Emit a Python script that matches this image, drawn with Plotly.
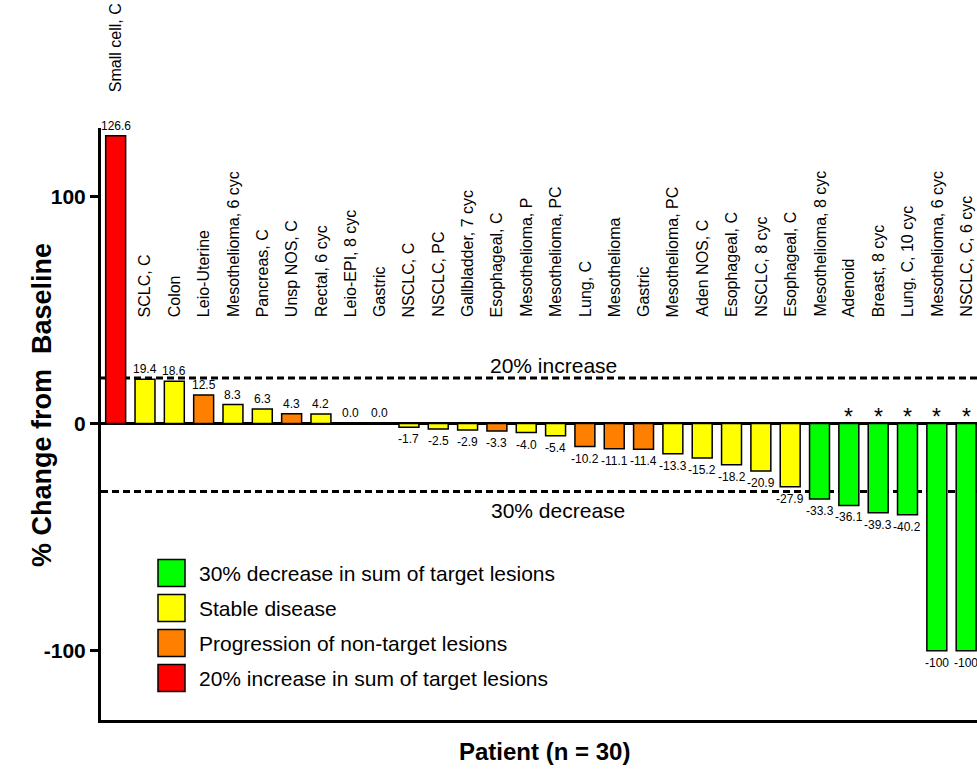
import plotly.graph_objects as go

# ---------------- data ----------------
labels = [
    "Small cell, C", "SCLC, C", "Colon", "Leio-Uterine", "Mesothelioma, 6 cyc",
    "Pancreas, C", "Unsp NOS, C", "Rectal, 6 cyc", "Leio-EPI, 8 cyc", "Gastric",
    "NSCLC, C", "NSCLC, PC", "Gallbladder, 7 cyc", "Esophageal, C", "Mesothelioma, P",
    "Mesothelioma, PC", "Lung, C", "Mesothelioma", "Gastric", "Mesothelioma, PC",
    "Aden NOS, C", "Esophageal, C", "NSCLC, 8 cyc", "Esophageal, C", "Mesothelioma, 8 cyc",
    "Adenoid", "Breast, 8 cyc", "Lung, C, 10 cyc", "Mesothelioma, 6 cyc", "NSCLC, C, 6 cyc",
]
values = [
    126.6, 19.4, 18.6, 12.5, 8.3, 6.3, 4.3, 4.2, 0.0, 0.0,
    -1.7, -2.5, -2.9, -3.3, -4.0, -5.4, -10.2, -11.1, -11.4, -13.3,
    -15.2, -18.2, -20.9, -27.9, -33.3, -36.1, -39.3, -40.2, -100, -100,
]
# response group: G = 30% decrease, S = stable, P = non-target progression, R = 20% increase
groups = [
    "R", "S", "S", "P", "S", "S", "P", "S", "S", "S",
    "S", "S", "S", "P", "S", "S", "P", "P", "P", "S",
    "S", "S", "S", "S", "G", "G", "G", "G", "G", "G",
]
starred = [False] * 25 + [True] * 5
value_text = [
    "126.6", "19.4", "18.6", "12.5", "8.3", "6.3", "4.3", "4.2", "0.0", "0.0",
    "-1.7", "-2.5", "-2.9", "-3.3", "-4.0", "-5.4", "-10.2", "-11.1", "-11.4", "-13.3",
    "-15.2", "-18.2", "-20.9", "-27.9", "-33.3", "-36.1", "-39.3", "-40.2", "-100", "-100",
]
legend_groups = ["G", "S", "P", "R"]
legend_labels = [
    "30% decrease in sum of target lesions",
    "Stable disease",
    "Progression of non-target lesions",
    "20% increase in sum of target lesions",
]
group_colors = {"G": "#00FF00", "S": "#FFFF00", "P": "#FF8000", "R": "#FF0000"}
ref_lines = [20, -30]
ref_texts = ["20% increase", "30% decrease"]

# ---------------- figure ----------------
FONT = "Liberation Sans, Arial, Helvetica, sans-serif"
NARROW = "Liberation Sans Narrow, Arial Narrow, Liberation Sans, Arial, sans-serif"
W, H = 977, 779
ML, MR, MT, MB = 101, 0, 128, 59
PW, PH = W - ML - MR, H - MT - MB

def px_to_paper_x(px):
    return (px - ML) / PW

def px_to_paper_y(py):
    return (H - MB - py) / PH

x = list(range(len(values)))
fig = go.Figure()
fig.add_trace(go.Bar(
    x=x, y=values,
    marker=dict(color=[group_colors[g] for g in groups],
                line=dict(color="black", width=1.5)),
    width=0.68,
    showlegend=False,
    hoverinfo="skip",
))

annotations = []
# value labels
for i, (v, t) in enumerate(zip(values, value_text)):
    if v >= 0:
        annotations.append(dict(x=i, y=v, xref="x", yref="y", text=t, showarrow=False,
                                yanchor="bottom", yshift=1,
                                font=dict(family=NARROW, size=12, color="black")))
    else:
        annotations.append(dict(x=i, y=v, xref="x", yref="y", text=t, showarrow=False,
                                yanchor="top", yshift=-3,
                                font=dict(family=NARROW, size=12, color="black")))
# asterisks
for i, s in enumerate(starred):
    if s:
        annotations.append(dict(x=i, y=0, xref="x", yref="y", text="*", showarrow=False,
                                yanchor="bottom", yshift=-9,
                                font=dict(family=FONT, size=23, color="black")))
# rotated patient labels
for i, lab in enumerate(labels):
    ybot = px_to_paper_y(94) if i == 0 else px_to_paper_y(319)
    annotations.append(dict(x=i, y=ybot, xref="x", yref="paper", text=lab, showarrow=False,
                            textangle=-90, xanchor="center", yanchor="bottom",
                            font=dict(family=FONT, size=16, color="black")))
# reference line texts
annotations.append(dict(x=px_to_paper_x(553), y=px_to_paper_y(365), xref="paper", yref="paper",
                        text=ref_texts[0], showarrow=False,
                        font=dict(family=FONT, size=21, color="black")))
annotations.append(dict(x=px_to_paper_x(558), y=px_to_paper_y(510), xref="paper", yref="paper",
                        text=ref_texts[1], showarrow=False,
                        font=dict(family=FONT, size=21, color="black")))
# axis titles
annotations.append(dict(x=px_to_paper_x(25), y=px_to_paper_y(405), xref="paper", yref="paper",
                        text="<b>% Change from&nbsp;&nbsp;Baseline</b>", showarrow=False, textangle=-90,
                        font=dict(family=FONT, size=27, color="black")))
annotations.append(dict(x=px_to_paper_x(544), y=px_to_paper_y(767), xref="paper", yref="paper",
                        text="<b>Patient (n = 30)</b>", showarrow=False,
                        font=dict(family=FONT, size=24, color="black")))

shapes = []
for yv in ref_lines:
    shapes.append(dict(type="line", xref="paper", yref="y", x0=0, x1=1, y0=yv, y1=yv,
                       line=dict(color="black", width=3, dash="7px,4px"), layer="below"))

# legend (squares + text)
leg_y = [573, 608, 643, 678]
for g, lab, cy in zip(legend_groups, legend_labels, leg_y):
    shapes.append(dict(type="rect", xref="paper", yref="paper",
                       x0=px_to_paper_x(158), x1=px_to_paper_x(185),
                       y0=px_to_paper_y(cy + 13.5), y1=px_to_paper_y(cy - 13.5),
                       fillcolor=group_colors[g], line=dict(color="black", width=1.5)))
    annotations.append(dict(x=px_to_paper_x(197), y=px_to_paper_y(cy), xref="paper", yref="paper",
                            text=lab, showarrow=False, xanchor="left", yanchor="middle",
                            font=dict(family=FONT, size=21, color="black")))

fig.update_layout(
    width=W, height=H,
    margin=dict(l=ML, r=MR, t=MT, b=MB, pad=0),
    paper_bgcolor="white", plot_bgcolor="white",
    annotations=annotations,
    shapes=shapes,
    xaxis=dict(range=[-0.5, 29.37], showticklabels=False, ticks="", showgrid=False,
               zeroline=False, showline=True, linecolor="black", linewidth=3,
               fixedrange=True),
    yaxis=dict(range=[-130.5, 130], tickvals=[-100, 0, 100], ticktext=["-100", "0", "100"],
               ticks="outside", ticklen=8, tickwidth=3, tickcolor="black",
               tickfont=dict(family=FONT, size=21, color="black", weight="bold"),
               showgrid=False, showline=True, linecolor="black", linewidth=3,
               zeroline=True, zerolinecolor="black", zerolinewidth=3,
               fixedrange=True),
    showlegend=False,
)

fig.write_html(
    "out.html",
    config={"displayModeBar": False},
    post_script="document.body.style.margin='0';document.body.style.overflow='hidden';",
)
